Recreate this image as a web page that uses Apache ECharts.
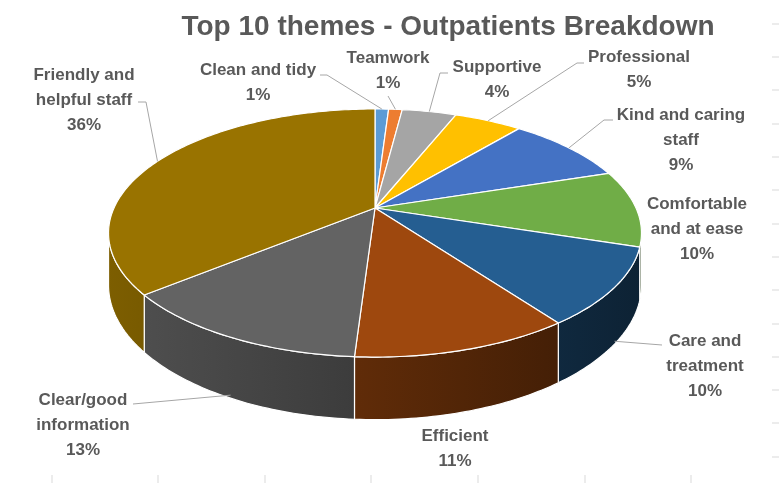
<!DOCTYPE html>
<html><head><meta charset="utf-8">
<script src="https://cdn.jsdelivr.net/npm/echarts@6/dist/echarts.min.js"></script>
<style>html,body{margin:0;padding:0;background:#fff}#c{width:779px;height:483px}</style>
</head><body><div id="c"></div>
<script>
// ---- data ----
const title = 'Top 10 themes - Outpatients Breakdown';
const categories = ['Clean and tidy','Teamwork','Supportive','Professional','Kind and caring staff','Comfortable and at ease','Care and treatment','Efficient','Clear/good information','Friendly and helpful staff'];
const labelTexts = ['Clean and tidy','Teamwork','Supportive','Professional','Kind and caring\nstaff','Comfortable\nand at ease','Care and\ntreatment','Efficient','Clear/good\ninformation','Friendly and\nhelpful staff'];
const values = [1,1,4,5,9,10,10,11,13,36];
const colors = ['#5b9bd5','#ed7d31','#a5a5a5','#ffc000','#4472c4','#70ad47','#255e91','#9e480e','#636363','#997300'];

// ---- layout (positions only) ----
const labelPos = [[258,83],[388,71],[497,80],[639,70],[681,140],[697,229],[705,366],[455,449],[83,425],[84,100]];
const leaderStart = [[320,75],[388,96],[448,73],[584,63],[613,120],null,[662,345],null,[133,404],[138,102]];
const leaderElbow = [[327,75],null,[440,73],[577,63],[604,120],null,null,null,null,[146,102]];
const anchorDepth = [0,0,0,0,0,0,0.95,0,0.95,0];
const rightTicks = [24,57,90,124,157,190,224,257,290,324,357,390,423,457];
const bottomTicks = [52,158,265,371,478,585,691];

// ---- 3D projection of the pie ----
const CX = 375, CY = 208, RA = 261, RB = 119, P = 0.2016, H = 50;
function proj(aDeg, d) {
  const a = aDeg * Math.PI / 180;
  const s = Math.sin(a), c = Math.cos(a);
  const w = 1 + P * c;
  return [CX + RA * s / w, CY - RB * c / w + d * H / w];
}
const VIS0 = Math.acos(-P) * 180 / Math.PI, VIS1 = 360 - VIS0;
const total = values.reduce((a, b) => a + b, 0);
const starts = [];
{ let c = 0; values.forEach(v => { starts.push(c); c += v; }); }
function angles(i, v) {
  const a0 = starts[i] / total * 360;
  return [a0, a0 + v / total * 360];
}
function shade(hex, f) {
  const n = parseInt(hex.slice(1), 16);
  const r = Math.round(((n >> 16) & 255) * f), g = Math.round(((n >> 8) & 255) * f), b = Math.round((n & 255) * f);
  return 'rgb(' + r + ',' + g + ',' + b + ')';
}
function arc(a0, a1, d) {
  const pts = [];
  const n = Math.max(2, Math.ceil((a1 - a0) / 1));
  for (let k = 0; k <= n; k++) pts.push(proj(a0 + (a1 - a0) * k / n, d));
  return pts;
}
const FONT = '"Liberation Sans", Arial, sans-serif';
const seriesData = categories.map((n, i) => ({ name: n, value: values[i] }));

const chart = echarts.init(document.getElementById('c'), null, { renderer: 'canvas' });
const graphics = [
  { type: 'text', x: 448, y: 27, style: { text: title, align: 'center', verticalAlign: 'middle', font: 'bold 28px ' + FONT, fill: '#595959' } }
];
rightTicks.forEach(y => graphics.push({ type: 'line', shape: { x1: 772, y1: y, x2: 779, y2: y }, style: { stroke: '#d9d9d9', lineWidth: 1 } }));
bottomTicks.forEach(x => graphics.push({ type: 'line', shape: { x1: x, y1: 475, x2: x, y2: 483 }, style: { stroke: '#d9d9d9', lineWidth: 1 } }));

chart.setOption({
  animation: false,
  graphic: graphics,
  series: [
    { // side walls
      type: 'custom', coordinateSystem: 'none', z: 1, data: seriesData,
      renderItem: function (params, api) {
        const i = params.dataIndex;
        const [a0, a1] = angles(i, api.value(0));
        const lo = Math.max(a0, VIS0), hi = Math.min(a1, VIS1);
        if (hi <= lo) return { type: 'group', children: [] };
        const top = arc(lo, hi, 0);
        const bot = arc(lo, hi, 1).reverse();
        return {
          type: 'polygon',
          shape: { points: top.concat(bot) },
          style: {
            fill: { type: 'linear', x: 107, y: 0, x2: 641, y2: 0, global: true,
              colorStops: [{ offset: 0, color: shade(colors[i], 0.82) }, { offset: 1, color: shade(colors[i], 0.36) }] },
            stroke: '#ffffff', lineWidth: 1.2, lineJoin: 'round'
          }
        };
      }
    },
    { // top faces
      type: 'custom', coordinateSystem: 'none', z: 2, data: seriesData,
      renderItem: function (params, api) {
        const i = params.dataIndex;
        const [a0, a1] = angles(i, api.value(0));
        const pts = [proj(0, 0).map((v, k) => k === 0 ? CX : CY)].concat(arc(a0, a1, 0));
        return {
          type: 'polygon',
          shape: { points: pts },
          style: { fill: colors[i], stroke: '#ffffff', lineWidth: 1.2, lineJoin: 'round' }
        };
      }
    },
    { // labels and leader lines
      type: 'custom', coordinateSystem: 'none', z: 3, data: seriesData,
      renderItem: function (params, api) {
        const i = params.dataIndex;
        const v = api.value(0);
        const [a0, a1] = angles(i, v);
        const children = [];
        if (leaderStart[i]) {
          const pts = [leaderStart[i]];
          if (leaderElbow[i]) pts.push(leaderElbow[i]);
          pts.push(proj((a0 + a1) / 2, anchorDepth[i]));
          children.push({ type: 'polyline', shape: { points: pts }, style: { stroke: '#a6a6a6', lineWidth: 1, fill: null } });
        }
        children.push({
          type: 'text', x: labelPos[i][0], y: labelPos[i][1],
          style: { text: labelTexts[i] + '\n' + Math.round(v / total * 100) + '%', align: 'center', verticalAlign: 'middle',
            font: 'bold 17px ' + FONT, lineHeight: 25, fill: '#595959' }
        });
        return { type: 'group', children: children };
      }
    }
  ]
});
</script>
</body></html>
